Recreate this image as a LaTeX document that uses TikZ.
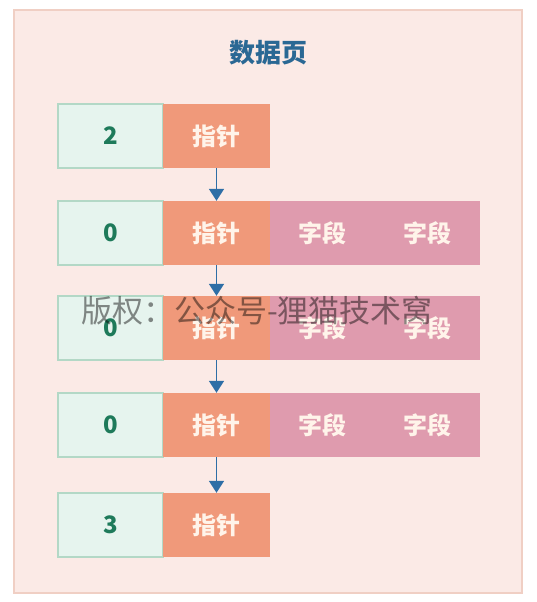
\documentclass[tikz,border=0pt]{standalone}
\usepackage{fontspec}
\usetikzlibrary{arrows.meta}
\setmainfont{Noto Sans CJK SC}
\definecolor{pagebg}{HTML}{FBEAE6}
\definecolor{frameline}{HTML}{F0CFC4}
\definecolor{numfill}{HTML}{E6F4EE}
\definecolor{numline}{HTML}{B3D8C6}
\definecolor{numtext}{HTML}{1E7A5A}
\definecolor{ptrfill}{HTML}{F0997A}
\definecolor{fldfill}{HTML}{DF9BAE}
\definecolor{boxtext}{HTML}{FFF4EA}
\definecolor{arrowc}{HTML}{2E6EA6}
\definecolor{titlec}{HTML}{2A6894}
\begin{document}
\begin{tikzpicture}[x=1pt,y=-1pt,
  numbox/.style={draw=numline, line width=1.2pt, fill=numfill, minimum width=105pt, minimum height=64pt, inner sep=0pt, font=\fontsize{24}{26}\selectfont\bfseries, text=numtext},
  ptrbox/.style={fill=ptrfill, minimum width=107pt, minimum height=64pt, inner sep=0pt, font=\fontsize{24}{26}\selectfont\bfseries, text=boxtext},
  fldbox/.style={fill=fldfill, minimum width=105pt, minimum height=64pt, inner sep=0pt, font=\fontsize{24}{26}\selectfont\bfseries, text=boxtext},
  link/.style={draw=arrowc, line width=1.8pt, -{Triangle[length=12pt,width=15pt]}}]
\useasboundingbox (0,0) rectangle (537,602);
\fill[white] (0,0) rectangle (537,602);
\draw[fill=pagebg, draw=frameline, line width=1.5pt] (14,10) rectangle (522,593);
\node[font=\fontsize{26}{28}\selectfont\bfseries, text=titlec] (title) at (268,53) {数据页};
% row 1
\node[numbox] (n1) at (110.5,136) {2};
\node[ptrbox] (p1) at (216.5,136) {指针};
% row 2
\node[numbox] (n2) at (110.5,233) {0};
\node[ptrbox] (p2) at (216.5,233) {指针};
\node[fldbox] (f2a) at (322.5,233) {字段};
\node[fldbox] (f2b) at (427.5,233) {字段};
% row 3
\node[numbox] (n3) at (110.5,328) {0};
\node[ptrbox] (p3) at (216.5,328) {指针};
\node[fldbox] (f3a) at (322.5,328) {字段};
\node[fldbox] (f3b) at (427.5,328) {字段};
% row 4
\node[numbox] (n4) at (110.5,425) {0};
\node[ptrbox] (p4) at (216.5,425) {指针};
\node[fldbox] (f4a) at (322.5,425) {字段};
\node[fldbox] (f4b) at (427.5,425) {字段};
% row 5
\node[numbox] (n5) at (110.5,525) {3};
\node[ptrbox] (p5) at (216.5,525) {指针};
% arrows
\draw[link] (p1.south) -- (p2.north);
\draw[link] (p2.south) -- (p3.north);
\draw[link] (p3.south) -- (p4.north);
\draw[link] (p4.south) -- (p5.north);
% watermark
\node[font=\fontsize{31}{34}\selectfont, text=black, opacity=0.45] (wm) at (257,311) {版权：公众号-狸猫技术窝};
\end{tikzpicture}
\end{document}
